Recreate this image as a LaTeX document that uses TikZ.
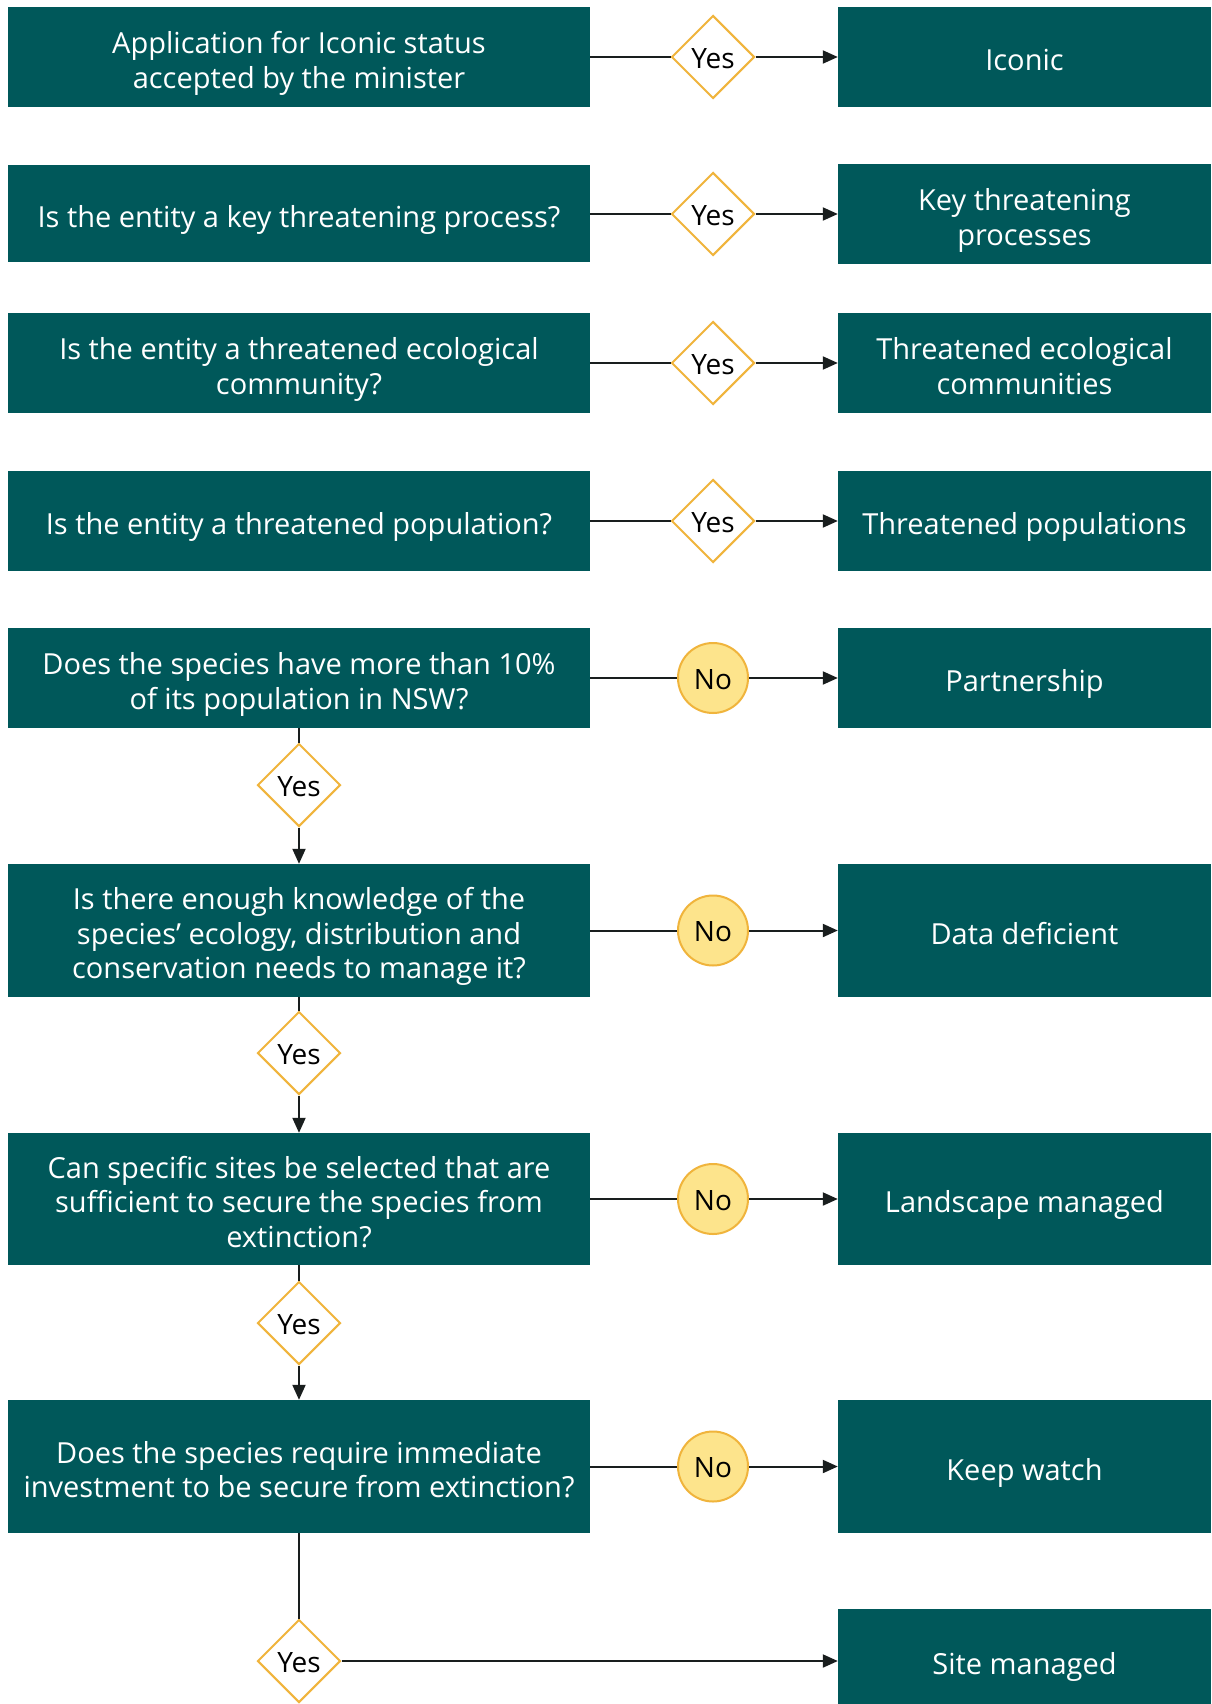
\documentclass[tikz,border=0pt]{standalone}
\usepackage{fontspec}
\setmainfont{Open Sans}
\usetikzlibrary{shapes.geometric,arrows.meta}

\definecolor{boxteal}{RGB}{0,88,90}
\definecolor{diagold}{RGB}{240,180,60}
\definecolor{nofill}{RGB}{253,228,140}
\definecolor{linedark}{RGB}{25,30,30}

% box text: centred lines, set a little below the geometric centre
\newcommand{\boxtext}[1]{\raisebox{-7pt}[\height][\depth]{%
  \begin{tabular}{@{}c@{}}#1\end{tabular}}}
% marker text, nudged down slightly
\newcommand{\marktext}[1]{\raisebox{-1.5pt}[\height][\depth]{#1}}

\tikzset{
  qbox/.style={rectangle, fill=boxteal, text=white, minimum width=582pt,
    inner sep=0pt, font=\fontsize{29}{34.5}\selectfont},
  abox/.style={rectangle, fill=boxteal, text=white, minimum width=373pt,
    inner sep=0pt, font=\fontsize{29}{34.5}\selectfont},
  yesd/.style={diamond, draw=diagold, line width=2pt, fill=white,
    minimum width=83pt, minimum height=83pt, inner sep=0pt, text=black,
    font=\fontsize{28}{32}\selectfont},
  noc/.style={circle, draw=diagold, line width=2pt, fill=nofill,
    minimum size=70pt, inner sep=0pt, text=black,
    font=\fontsize{28}{32}\selectfont},
  link/.style={draw=linedark, line width=2pt},
  arr/.style={link, -{Triangle[length=15pt,width=13pt]}}
}

\begin{document}
\begin{tikzpicture}[x=1pt,y=-1pt]
\useasboundingbox (0,0) rectangle (1211,1704);
\fill[white] (0,0) rectangle (1211,1704);

% question boxes (left column)
\node[qbox, minimum height=100pt] (q1) at (299,57)    {\boxtext{Application for Iconic status\\accepted by the minister}};
\node[qbox, minimum height=97pt]  (q2) at (299,214)   {\boxtext{Is the entity a key threatening process?}};
\node[qbox, minimum height=100pt] (q3) at (299,363)   {\boxtext{Is the entity a threatened ecological\\community?}};
\node[qbox, minimum height=100pt] (q4) at (299,521)   {\boxtext{Is the entity a threatened population?}};
\node[qbox, minimum height=100pt] (q5) at (299,678)   {\boxtext{Does the species have more than 10\%\\of its population in NSW?}};
\node[qbox, minimum height=133pt] (q6) at (299,930.5) {\boxtext{Is there enough knowledge of the\\species’ ecology, distribution and\\conservation needs to manage it?}};
\node[qbox, minimum height=132pt] (q7) at (299,1199)  {\boxtext{Can specific sites be selected that are\\sufficient to secure the species from\\extinction?}};
\node[qbox, minimum height=133pt] (q8) at (299,1466.5){\boxtext{Does the species require immediate\\investment to be secure from extinction?}};

% outcome boxes (right column)
\node[abox, minimum height=100pt] (r1) at (1024.5,57)    {\boxtext{Iconic}};
\node[abox, minimum height=100pt] (r2) at (1024.5,214)   {\boxtext{Key threatening\\processes}};
\node[abox, minimum height=100pt] (r3) at (1024.5,363)   {\boxtext{Threatened ecological\\communities}};
\node[abox, minimum height=100pt] (r4) at (1024.5,521)   {\boxtext{Threatened populations}};
\node[abox, minimum height=100pt] (r5) at (1024.5,678)   {\boxtext{Partnership}};
\node[abox, minimum height=133pt] (r6) at (1024.5,930.5) {\boxtext{Data deficient}};
\node[abox, minimum height=132pt] (r7) at (1024.5,1199)  {\boxtext{Landscape managed}};
\node[abox, minimum height=133pt] (r8) at (1024.5,1466.5){\boxtext{Keep watch}};
\node[abox, minimum height=104pt] (r9) at (1024.5,1661)  {\boxtext{Site managed}};

% decision markers on the horizontal links
\node[yesd] (h1) at (713,57)    {\marktext{Yes}};
\node[yesd] (h2) at (713,214)   {\marktext{Yes}};
\node[yesd] (h3) at (713,363)   {\marktext{Yes}};
\node[yesd] (h4) at (713,521)   {\marktext{Yes}};
\node[noc]  (h5) at (713,678)   {\marktext{No}};
\node[noc]  (h6) at (713,930.5) {\marktext{No}};
\node[noc]  (h7) at (713,1199)  {\marktext{No}};
\node[noc]  (h8) at (713,1466.5){\marktext{No}};

% decision markers on the vertical links
\node[yesd] (v5) at (299,785)  {\marktext{Yes}};
\node[yesd] (v6) at (299,1053) {\marktext{Yes}};
\node[yesd] (v7) at (299,1323) {\marktext{Yes}};
\node[yesd] (v8) at (299,1661) {\marktext{Yes}};

% horizontal connectors
\foreach \i in {1,...,8} {
  \draw[link] (q\i.east) -- (h\i.west);
  \draw[arr]  (h\i.east) -- (r\i.west);
}

% vertical connectors
\draw[link] (q5.south) -- (v5.north);
\draw[arr]  (v5.south) -- (q6.north);
\draw[link] (q6.south) -- (v6.north);
\draw[arr]  (v6.south) -- (q7.north);
\draw[link] (q7.south) -- (v7.north);
\draw[arr]  (v7.south) -- (q8.north);
\draw[link] (q8.south) -- (v8.north);
\draw[arr]  (v8.east)  -- (r9.west);
\end{tikzpicture}
\end{document}
